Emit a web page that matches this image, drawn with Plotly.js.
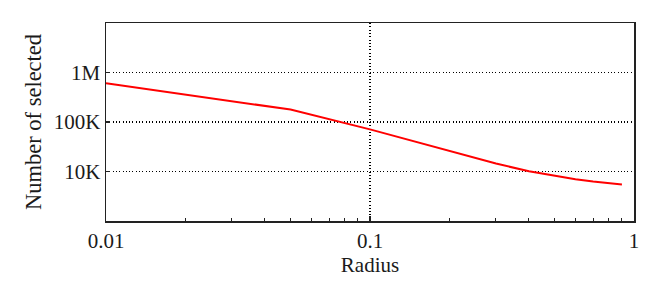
<!DOCTYPE html>
<html>
<head>
<meta charset="utf-8">
<script src="https://cdn.plot.ly/plotly-3.0.1.min.js"></script>
<style>html,body{margin:0;padding:0;background:#fff;}#chart{width:664px;height:299px;}</style>
</head>
<body>
<div id="chart"></div>
<script>
const radius = [0.01, 0.05, 0.1, 0.2, 0.3, 0.4, 0.5, 0.6, 0.7, 0.8, 0.9];
const selected = [608000, 178000, 71000, 25500, 14500, 10100, 8200, 7000, 6250, 5800, 5450];
const xTickVals = [0.01, 0.1, 1];
const xTickText = ['0.01', '0.1', '1'];
const yTickVals = [10000, 100000, 1000000];
const yTickText = ['10K', '100K', '1M'];

const fam = '"Liberation Serif", serif';
const tickFont = {family: fam, size: 21, color: '#1a1a1a'};
const xTitleFont = {family: fam, size: 21, color: '#1a1a1a'};
const yTitleFont = {family: fam, size: 22.5, color: '#1a1a1a'};

Plotly.newPlot('chart', [{
  x: radius, y: selected, type: 'scatter', mode: 'lines',
  line: {color: '#ff0000', width: 2}, hoverinfo: 'skip', showlegend: false
}], {
  width: 664, height: 299,
  margin: {l: 106, r: 30, t: 23, b: 78},
  paper_bgcolor: '#fff', plot_bgcolor: '#fff',
  font: {family: fam, size: 21, color: '#1a1a1a'},
  xaxis: {
    type: 'log', range: [-2, 0],
    tickvals: xTickVals, ticktext: xTickText,
    ticks: 'inside', ticklen: 5, tickwidth: 1.5, tickcolor: '#222',
    showline: true, mirror: true, linecolor: '#222', linewidth: 1.5,
    showgrid: true, gridcolor: '#000', griddash: '1px,2.3px', gridwidth: 1.1,
    zeroline: false,
    minor: {ticks: 'inside', ticklen: 3, tickcolor: '#222', tickwidth: 1, dtick: 'D1', showgrid: false},
    title: {text: 'Radius', font: xTitleFont, standoff: 4},
    tickfont: tickFont
  },
  yaxis: {
    type: 'log', range: [3, 7],
    tickvals: yTickVals, ticktext: yTickText,
    ticks: 'inside', ticklen: 4, tickwidth: 1.5, tickcolor: '#222',
    showline: true, mirror: true, linecolor: '#222', linewidth: 1.5,
    showgrid: true, gridcolor: '#000', griddash: '1px,2.3px', gridwidth: 1.1,
    zeroline: false,
    title: {text: 'Number of selected', font: yTitleFont, standoff: 6},
    tickfont: tickFont
  }
}, {staticPlot: true, displayModeBar: false});
</script>
</body>
</html>
